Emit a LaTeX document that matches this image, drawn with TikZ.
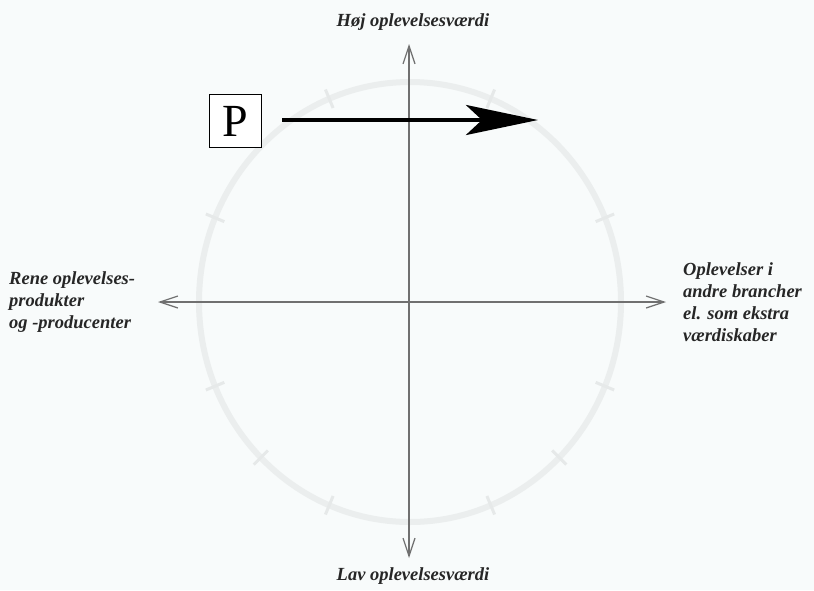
\documentclass[tikz,border=0pt]{standalone}
\usepackage{fontspec}
\setmainfont{Liberation Serif}
\usetikzlibrary{arrows.meta}
\definecolor{bgc}{HTML}{F8FBFB}
\definecolor{circc}{HTML}{EBEEEE}
\definecolor{tickc}{HTML}{E6E9E9}
\definecolor{axisc}{HTML}{707070}
\tikzset{
  lbl/.style={font=\fontsize{18.5}{22}\selectfont\itshape\bfseries, text=black!85, inner sep=0pt, align=left},
  axisline/.style={draw=axisc, line width=1.4pt, -{Straight Barb[length=18pt,width=12pt,line width=1.2pt]}},
  tickmark/.style={draw=tickc, line width=3pt}
}
\begin{document}
\begin{tikzpicture}[x=1pt,y=-1pt]
\useasboundingbox[fill=bgc] (0,0) rectangle (814,590);
% faint circle
\draw[circc, line width=6pt] (410,302) ellipse [x radius=211, y radius=220];
\foreach \a in {22.5,67.5,112.5,157.5,202.5,225,247.5,292.5,315,337.5}{
  \draw[tickmark] ({410+201*cos(\a)},{302-210*sin(\a)}) -- ({410+221*cos(\a)},{302-230*sin(\a)});
}
\coordinate (c) at (409,302);
\coordinate (top) at (409,44);
\coordinate (bot) at (409,558);
\coordinate (lft) at (158,302);
\coordinate (rgt) at (666,302);
\draw[axisline] (c) -- (top);
\draw[axisline] (c) -- (bot);
\draw[axisline] (c) -- (lft);
\draw[axisline] (c) -- (rgt);
\node[lbl] (hoj) at (413,22) {Høj oplevelsesværdi};
\node[lbl] (lav) at (413,576) {Lav oplevelsesværdi};
\node[lbl, anchor=west] (rene) at (9,302) {Rene oplevelses-\\produkter\\og -producenter};
\node[lbl, anchor=west] (andre) at (683,302) {Oplevelser i\\andre brancher\\el. som ekstra\\værdiskaber};
\node[draw=black, line width=1pt, fill=white, minimum width=52pt, minimum height=53pt, inner sep=0pt, font=\fontsize{46}{46}\selectfont] (P) at (235,121) {P};
\coordinate (pend) at (538,120);
\draw[line width=4.5pt, -{Stealth[length=72pt,width=30pt,inset=16pt]}] (282,120) -- (pend);
\end{tikzpicture}
\end{document}
